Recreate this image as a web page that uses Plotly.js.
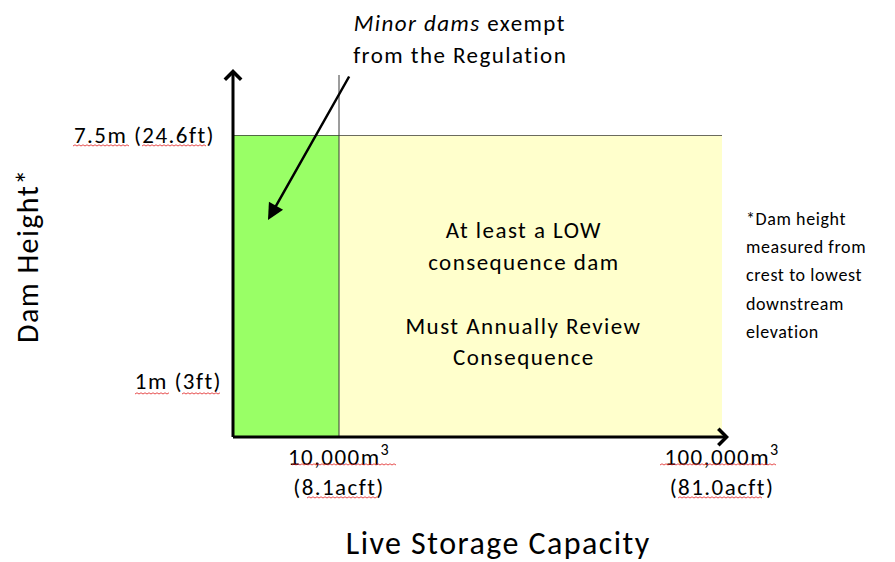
<!DOCTYPE html>
<html><head><meta charset="utf-8">
<script src="https://cdn.plot.ly/plotly-3.0.1.min.js"></script>
<style>html,body{margin:0;padding:0;background:#fff}#c{width:895px;height:562px}</style>
</head><body><div id="c"></div>
<script>
// ---- data ----
const storageThresholds = [10000, 100000];            // m3
const storageLabels = ["10,000m<sup>3</sup><br>(8.1acft)", "100,000m<sup>3</sup><br>(81.0acft)"];
const heightThresholds = [1, 7.5];                     // m
const heightLabels = ["1m (3ft)", "7.5m (24.6ft)"];
const zoneNames = ["Minor dams", "Low consequence"];
const zoneColors = ["#99FF66", "#FFFFCC"];
const centerText = ["At least a LOW", "consequence dam", "", "Must Annually Review", "Consequence"];
const noteText = ["*Dam height", "measured from", "crest to lowest", "downstream", "elevation"];

// ---- layout geometry ----
const W = 895, H = 562, L = 233, R = 722, T = 135, B = 437;
const xLogRange = [3.7232, 5];
const yLogRange = [-0.1992, Math.log10(7.5)];
const xMin = Math.pow(10, xLogRange[0]);
const yMin = Math.pow(10, yLogRange[0]);
const px = v => (v - L) / (R - L);
const py = v => (B - v) / (B - T);
const FONT = "Carlito, 'Open Sans', Lato, sans-serif";

const xs = [xMin].concat(storageThresholds);
const traces = zoneNames.map((n, i) => ({
  type: "scatter", mode: "lines", name: n, fill: "toself",
  x: [xs[i], xs[i + 1], xs[i + 1], xs[i], xs[i]],
  y: [yMin, yMin, heightThresholds[1], heightThresholds[1], yMin],
  fillcolor: zoneColors[i], line: {width: 0}, hoverinfo: "skip"
}));

const ann = [];
// axis arrows
ann.push({xref: "paper", yref: "paper", x: px(729), y: 0, ax: -(729 - L + 1.5), ay: 0, text: "", showarrow: true,
  arrowhead: 4, arrowsize: 1.05, arrowwidth: 3, arrowcolor: "#000", standoff: 0, startstandoff: 0});
ann.push({xref: "paper", yref: "paper", x: 0, y: py(69), ax: 0, ay: (B - 69 + 1.5), text: "", showarrow: true,
  arrowhead: 4, arrowsize: 1.05, arrowwidth: 3, arrowcolor: "#000", standoff: 0, startstandoff: 0});
// minor dam arrow
ann.push({xref: "paper", yref: "paper", x: px(268), y: py(220), ax: 350 - 268, ay: 75 - 220, text: "", showarrow: true,
  arrowhead: 2, arrowsize: 1.3, arrowwidth: 2.5, arrowcolor: "#000", standoff: 0});
// callout text
const CS = 23;
ann.push({xref: "paper", yref: "paper", x: px(460), y: py(23), text: "<i>Minor dams</i> exempt", showarrow: false,
  font: {family: FONT, size: CS, color: "#000"}, xanchor: "center", yanchor: "middle"});
ann.push({xref: "paper", yref: "paper", x: px(460), y: py(55), text: "from the Regulation", showarrow: false,
  font: {family: FONT, size: CS, color: "#000"}, xanchor: "center", yanchor: "middle"});
// center text
const cy = [230, 262, 294, 326, 357];
centerText.forEach((t, i) => { if (t) ann.push({xref: "paper", yref: "paper", x: px(524), y: py(cy[i]), text: t, showarrow: false,
  font: {family: FONT, size: 23, color: "#000"}, xanchor: "center", yanchor: "middle"}); });
// note text
noteText.forEach((t, i) => ann.push({xref: "paper", yref: "paper", x: px(744), y: py(219 + i * 28.2), text: t, showarrow: false,
  font: {family: FONT, size: 18, color: "#000"}, xanchor: "left", yanchor: "middle", align: "left"}));
// axis titles
ann.push({xref: "paper", yref: "paper", x: px(498), y: py(543), text: "Live Storage Capacity", showarrow: false,
  font: {family: FONT, size: 32, color: "#000"}, xanchor: "center", yanchor: "middle", borderpad: 0});
ann.push({xref: "paper", yref: "paper", x: px(27), y: py(256), text: "Dam Height*", showarrow: false, textangle: -90,
  font: {family: FONT, size: 30, color: "#000"}, xanchor: "center", yanchor: "middle"});

// red spell-check squiggles under the labels (pixel positions of the reference)
function squiggle(x0, x1, y) {
  let d = "M" + px(x0) + "," + py(y);
  let up = true;
  for (let x = x0 + 2; x <= x1; x += 2) { d += " L" + px(x) + "," + py(y + (up ? -1.2 : 0)); up = !up; }
  return {type: "path", xref: "paper", yref: "paper", path: d, line: {color: "#e02020", width: 0.8}, layer: "above"};
}
const squigs = [[73,130,146],[142,207,146],[135,170,394],[182,220,394],[292,397,465],[307,378,498],[660,777,465],[678,763,498]];

const shapes = [
  {type: "line", xref: "paper", yref: "y", x0: 0, x1: 1, y0: heightThresholds[1], y1: heightThresholds[1],
   line: {color: "#3a3a3a", width: 1.5}},
  {type: "line", xref: "x", yref: "paper", x0: storageThresholds[0], x1: storageThresholds[0], y0: 0, y1: py(75),
   line: {color: "#3a3a3a", width: 1}}
].concat(squigs.map(s => squiggle(s[0], s[1], s[2])));

const layout = {
  width: W, height: H, showlegend: false,
  paper_bgcolor: "#fff", plot_bgcolor: "#fff",
  margin: {l: L, r: W - R, t: T, b: H - B, pad: 0},
  font: {family: FONT, color: "#000"},
  xaxis: {type: "log", range: xLogRange, showgrid: false, zeroline: false, showline: false,
    tickmode: "array", tickvals: storageThresholds, ticktext: storageLabels, ticks: "", ticklabelstandoff: 4,
    tickfont: {family: FONT, size: 23, color: "#000"}, fixedrange: true},
  yaxis: {type: "log", range: yLogRange, showgrid: false, zeroline: false, showline: false,
    tickmode: "array", tickvals: heightThresholds, ticktext: heightLabels, ticks: "", ticklabelstandoff: 17,
    tickfont: {family: FONT, size: 23, color: "#000"}, fixedrange: true},
  shapes: shapes, annotations: ann
};
Plotly.newPlot("c", traces, layout, {staticPlot: true}).then(gd => {
  // widen glyph spacing to mimic the reference's hinted rendering
  gd.querySelectorAll(".annotation-text, .xtick text, .ytick text").forEach(el => {
    const isNote = noteText.indexOf(el.textContent) >= 0;
    el.style.letterSpacing = isNote ? "0.6px" : "1.45px";
  });
  // the lower height label sits a little closer to the axis in the reference
  gd.querySelectorAll(".ytick text").forEach(el => {
    if (el.textContent === heightLabels[0]) {
      el.setAttribute("x", (parseFloat(el.getAttribute("x")) || 0) + 7);
    }
  });
});
</script></body></html>
